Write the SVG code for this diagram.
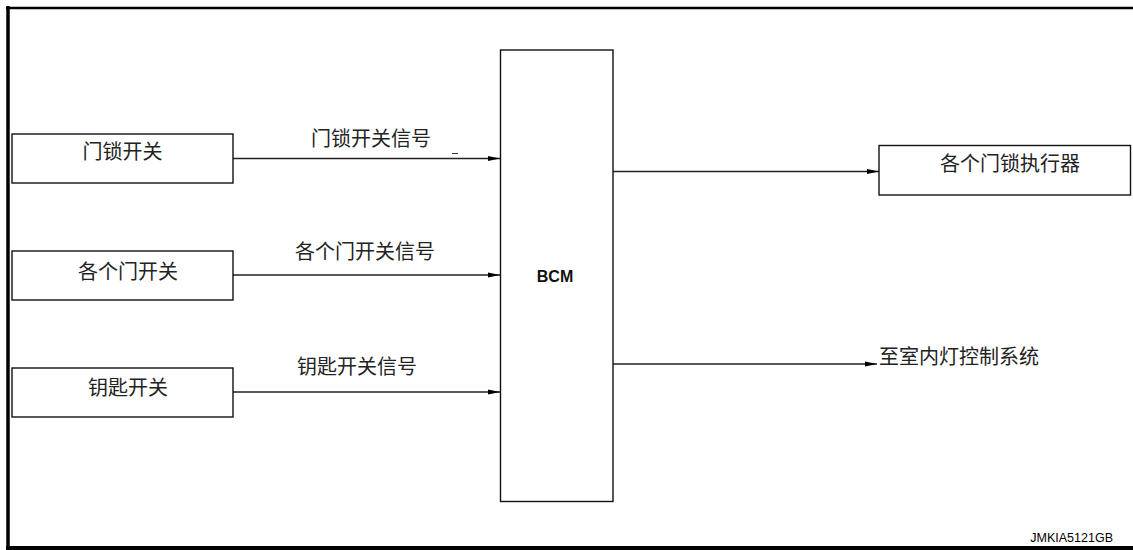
<svg xmlns="http://www.w3.org/2000/svg" width="1133" height="550" viewBox="0 0 1133 550">
<style>
.box{fill:#fff;stroke:#111;stroke-width:1.4}
.cn{font-family:"Noto Sans CJK SC","Noto Sans",sans-serif;font-size:20px;fill:#222}
.conn{stroke:#222;stroke-width:1.4;fill:none}
.frame{stroke:#000;fill:none}
</style>
<defs>
<marker id="arr" viewBox="0 0 12 6" refX="12" refY="3" markerWidth="12" markerHeight="6" markerUnits="userSpaceOnUse" orient="auto">
<path d="M0,0.5 L12,3 L0,5.5 Z" fill="#000"/>
</marker>
</defs>
<rect width="1133" height="550" fill="#fff"/>
<g id="frame">
<line class="frame" x1="8" y1="6" x2="8" y2="550" stroke-width="3.5"/>
<line class="frame" x1="6" y1="8" x2="1133" y2="8" stroke-width="2.5"/>
<line class="frame" x1="6" y1="548" x2="1133" y2="548" stroke-width="4"/>
</g>
<g id="connectors">
<line class="conn" x1="233" y1="158.5" x2="500" y2="158.5" marker-end="url(#arr)"/>
<line class="conn" x1="233" y1="275" x2="500" y2="275" marker-end="url(#arr)"/>
<line class="conn" x1="233" y1="392" x2="500" y2="392" marker-end="url(#arr)"/>
<line class="conn" x1="613" y1="171.5" x2="879" y2="171.5" marker-end="url(#arr)"/>
<line class="conn" x1="613" y1="364" x2="877" y2="364" marker-end="url(#arr)"/>
<line x1="452" y1="153.5" x2="458" y2="153.5" stroke="#333" stroke-width="1"/>
<text class="cn" x="371" y="146" text-anchor="middle">门锁开关信号</text>
<text class="cn" x="365" y="259" text-anchor="middle">各个门开关信号</text>
<text class="cn" x="357" y="374" text-anchor="middle">钥匙开关信号</text>
<text class="cn" x="879" y="364">至室内灯控制系统</text>
</g>
<g id="door-lock-switch">
<rect class="box" x="12" y="134" width="221" height="49"/>
<text class="cn" x="122.5" y="159" text-anchor="middle">门锁开关</text>
</g>
<g id="door-switches">
<rect class="box" x="12" y="251" width="221" height="49"/>
<text class="cn" x="128" y="279" text-anchor="middle">各个门开关</text>
</g>
<g id="key-switch">
<rect class="box" x="12" y="368" width="221" height="49"/>
<text class="cn" x="128" y="395" text-anchor="middle">钥匙开关</text>
</g>
<g id="bcm">
<rect class="box" x="500.5" y="50" width="112.5" height="451.5"/>
<text x="555" y="282" text-anchor="middle" font-family="Liberation Sans, Arial, sans-serif" font-size="16" font-weight="bold" fill="#111">BCM</text>
</g>
<g id="door-lock-actuators">
<rect class="box" x="879" y="145.5" width="251.5" height="49.5"/>
<text class="cn" x="1010" y="171" text-anchor="middle">各个门锁执行器</text>
</g>
<text x="1113" y="542" text-anchor="end" font-family="Liberation Sans, Arial, sans-serif" font-size="12.5" fill="#000">JMKIA5121GB</text>
</svg>
